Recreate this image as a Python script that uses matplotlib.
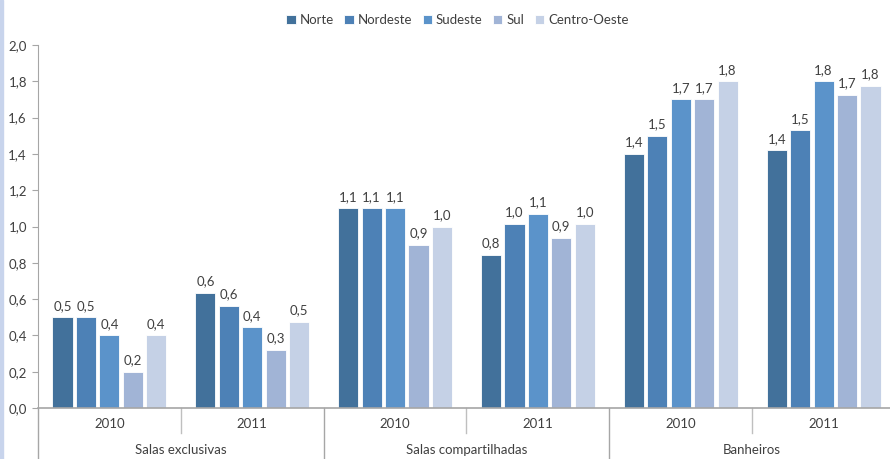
import matplotlib
matplotlib.use("Agg")
import matplotlib.pyplot as plt
import matplotlib.transforms as mtransforms
from matplotlib.patches import Rectangle
import numpy as np

plt.rcParams['font.family'] = ['Lato', 'DejaVu Sans']

series = ["Norte", "Nordeste", "Sudeste", "Sul", "Centro-Oeste"]
colors = ["#42719B", "#4D81B6", "#5B93CA", "#A1B4D6", "#C5D1E6"]
years = ["2010", "2011", "2010", "2011", "2010", "2011"]
categories = ["Salas exclusivas", "Salas compartilhadas", "Banheiros"]

norte = [0.50, 0.634, 1.10, 0.845, 1.40, 1.42]
nordeste = [0.50, 0.562, 1.10, 1.014, 1.50, 1.53]
sudeste = [0.40, 0.445, 1.10, 1.069, 1.70, 1.80]
sul = [0.20, 0.32, 0.90, 0.937, 1.70, 1.725]
centro_oeste = [0.40, 0.474, 1.00, 1.014, 1.80, 1.774]
values = [norte, nordeste, sudeste, sul, centro_oeste]

yticks = [0.0, 0.2, 0.4, 0.6, 0.8, 1.0, 1.2, 1.4, 1.6, 1.8, 2.0]

W, H = 890, 459
fig = plt.figure(figsize=(W / 100, H / 100), dpi=100)
ax = fig.add_axes([38 / W, (H - 408) / H, (895 - 38) / W, (408 - 45) / H])

x = np.arange(len(years))
pitch = 0.164
bw = 0.141
txt = "#404040"
axc = "#A6A6A6"
fs = 9.5
for i, (name, vals, c) in enumerate(zip(series, values, colors)):
    pos = x + (i - 2) * pitch
    ax.bar(pos, vals, width=bw, color=c, label=name, edgecolor="white", linewidth=0.6)
    for p, v in zip(pos, vals):
        ax.annotate(f"{v:.1f}".replace(".", ","), (p, v), xytext=(0, 4),
                    textcoords="offset points", ha="center", va="bottom",
                    fontsize=fs, color=txt)

ax.set_xlim(-0.5, 5.5)
ax.set_ylim(0, 2.0)
ax.set_yticks(yticks)
ax.set_yticklabels([f"{t:.1f}".replace(".", ",") for t in yticks], fontsize=fs, color=txt)
ax.set_xticks([])
for s in ["top", "right"]:
    ax.spines[s].set_visible(False)
ax.spines["left"].set_color(axc)
ax.spines["bottom"].set_color(axc)
ax.spines["bottom"].set_linewidth(1.2)
ax.tick_params(axis="y", color=axc, length=4, pad=4)

trans = mtransforms.blended_transform_factory(ax.transData, ax.transAxes)
axh = 408 - 45
y_year = -16 / axh
y_cat = -42 / axh
y_short = -25 / axh
y_long = -60 / axh

for xi, yr in zip(x, years):
    ax.text(xi, y_year, yr, transform=trans, ha="center", va="center", fontsize=fs, color=txt)
for ci, cat in enumerate(categories):
    ax.text(2 * ci + 0.5, y_cat, cat, transform=trans, ha="center", va="center", fontsize=fs, color=txt)
for xs in [0.5, 2.5, 4.5]:
    ax.plot([xs, xs], [0, y_short], transform=trans, color="#BFBFBF", lw=1, clip_on=False)
for xs in [-0.5, 1.5, 3.5]:
    ax.plot([xs, xs], [0, y_long], transform=trans, color=axc, lw=1, clip_on=False)

fig.legend(loc="upper center", bbox_to_anchor=(0.514, 0.995), ncol=5, frameon=False,
           fontsize=fs, handlelength=0.7, handleheight=0.7, handletextpad=0.3,
           columnspacing=0.8, labelcolor=txt)

fig.patches.append(Rectangle((0, 0), 2.5 / W, 1, transform=fig.transFigure,
                             color="#C8D4EC", zorder=0))

fig.savefig("out.png", dpi=100)
